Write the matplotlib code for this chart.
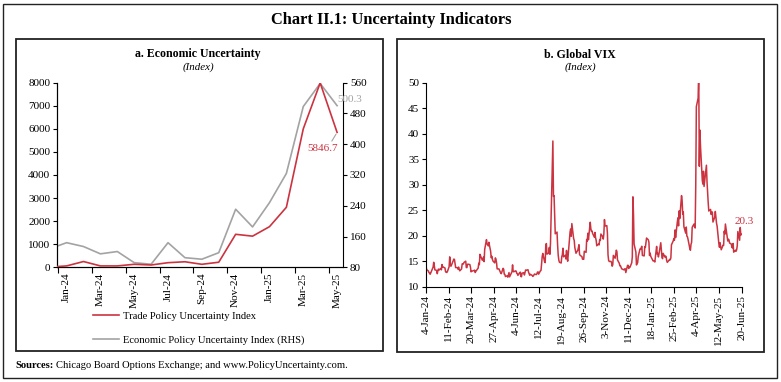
import matplotlib
matplotlib.use("Agg")
import matplotlib.pyplot as plt
import numpy as np
import pandas as pd
from matplotlib.patches import Rectangle
from matplotlib.transforms import ScaledTranslation

plt.rcParams['font.family'] = ['Liberation Serif', 'DejaVu Serif']

# ---------------- Data: panel a (monthly) ----------------
months = ['Dec-23', 'Jan-24', 'Feb-24', 'Mar-24', 'Apr-24', 'May-24', 'Jun-24', 'Jul-24',
          'Aug-24', 'Sep-24', 'Oct-24', 'Nov-24', 'Dec-24', 'Jan-25', 'Feb-25', 'Mar-25',
          'Apr-25', 'May-25']
trade_policy = [10, 60, 250, 60, 60, 130, 100, 200, 240, 130, 220, 1430, 1350, 1760, 2600,
                6000, 7990, 5846.7]
econ_policy = [128, 144, 134, 115, 121, 92, 88, 144, 105, 101, 118, 231, 185, 248, 324,
               498, 558, 500.3]
month_labels = ['Jan-24', 'Mar-24', 'May-24', 'Jul-24', 'Sep-24', 'Nov-24', 'Jan-25',
                'Mar-25', 'May-25']

# ---------------- Data: panel b (daily VIX) ----------------
vix_days = {
    '2024-01': [4, 5, 8, 9, 10, 11, 12, 16, 17, 18, 19, 22, 23, 24, 25, 26, 29, 30, 31],
    '2024-02': [1, 2, 5, 6, 7, 8, 9, 12, 13, 14, 15, 16, 20, 21, 22, 23, 26, 27, 28, 29],
    '2024-03': [1, 4, 5, 6, 7, 8, 11, 12, 13, 14, 15, 18, 19, 20, 21, 22, 25, 26, 27, 28],
    '2024-04': [1, 2, 3, 4, 5, 8, 9, 10, 11, 12, 15, 16, 17, 18, 19, 22, 23, 24, 25, 26, 29, 30],
    '2024-05': [1, 2, 3, 6, 7, 8, 9, 10, 13, 14, 15, 16, 17, 20, 21, 22, 23, 24, 28, 29, 30, 31],
    '2024-06': [3, 4, 5, 6, 7, 10, 11, 12, 13, 14, 17, 18, 20, 21, 24, 25, 26, 27, 28],
    '2024-07': [1, 2, 3, 5, 8, 9, 10, 11, 12, 15, 16, 17, 18, 19, 22, 23, 24, 25, 26, 29, 30, 31],
    '2024-08': [1, 2, 5, 6, 7, 8, 9, 12, 13, 14, 15, 16, 19, 20, 21, 22, 23, 26, 27, 28, 29, 30],
    '2024-09': [3, 4, 5, 6, 9, 10, 11, 12, 13, 16, 17, 18, 19, 20, 23, 24, 25, 26, 27, 30],
    '2024-10': [1, 2, 3, 4, 7, 8, 9, 10, 11, 14, 15, 16, 17, 18, 21, 22, 23, 24, 25, 28, 29, 30, 31],
    '2024-11': [1, 4, 5, 6, 7, 8, 11, 12, 13, 14, 15, 18, 19, 20, 21, 22, 25, 26, 27, 29],
    '2024-12': [2, 3, 4, 5, 6, 9, 10, 11, 12, 13, 16, 17, 18, 19, 20, 23, 24, 26, 27, 30, 31],
    '2025-01': [2, 3, 6, 7, 8, 10, 13, 14, 15, 16, 17, 21, 22, 23, 24, 27, 28, 29, 30, 31],
    '2025-02': [3, 4, 5, 6, 7, 10, 11, 12, 13, 14, 18, 19, 20, 21, 24, 25, 26, 27, 28],
    '2025-03': [3, 4, 5, 6, 7, 10, 11, 12, 13, 14, 17, 18, 19, 20, 21, 24, 25, 26, 27, 28, 31],
    '2025-04': [1, 2, 3, 4, 7, 8, 9, 10, 11, 14, 15, 16, 17, 21, 22, 23, 24, 25, 28, 29, 30],
    '2025-05': [1, 2, 5, 6, 7, 8, 9, 12, 13, 14, 15, 16, 19, 20, 21, 22, 23, 27, 28, 29, 30],
    '2025-06': [2, 3, 4, 5, 6, 9, 10, 11, 12, 13, 16, 17, 18, 20],
}
vix_values = {
    '2024-01': [14.13, 13.35, 13.08, 12.76, 12.69, 12.44, 12.70, 13.84, 14.79, 14.13, 13.30, 13.19,
                12.55, 13.14, 13.45, 13.26, 13.60, 13.31, 14.35],
    '2024-02': [13.88, 13.85, 13.67, 12.93, 12.83, 12.79, 12.93, 13.93, 15.85, 14.38, 14.01, 14.24,
                15.42, 15.34, 14.54, 13.75, 13.74, 13.43, 13.84, 13.40],
    '2024-03': [13.11, 13.49, 14.46, 14.50, 14.44, 14.74, 15.01, 13.75, 13.75, 14.40, 14.41, 14.33,
                13.82, 12.92, 13.06, 13.06, 13.19, 13.24, 12.78, 13.01],
    '2024-04': [13.65, 14.61, 14.33, 16.35, 16.03, 15.19, 15.23, 15.80, 14.91, 17.31, 19.23, 18.40,
                18.21, 18.00, 18.71, 16.94, 15.69, 15.97, 15.37, 15.03, 14.67, 15.65],
    '2024-05': [15.39, 14.68, 13.49, 13.49, 13.23, 13.00, 12.69, 12.55, 13.60, 13.42, 12.45, 12.42,
                11.99, 12.15, 11.86, 12.29, 12.77, 11.93, 12.92, 14.28, 13.06, 12.92],
    '2024-06': [13.11, 13.06, 12.63, 12.58, 12.22, 12.74, 12.85, 12.04, 11.94, 12.66, 12.75, 12.30,
                13.28, 13.20, 13.33, 12.84, 12.55, 12.24, 12.44],
    '2024-07': [12.22, 12.03, 12.09, 12.48, 12.37, 12.51, 12.85, 12.91, 12.46, 13.12, 13.19, 14.48,
                15.93, 16.52, 14.91, 14.72, 18.04, 18.46, 16.39, 16.60, 17.69, 16.36],
    '2024-08': [18.59, 23.39, 38.57, 27.71, 27.85, 23.79, 20.37, 20.71, 18.12, 16.19, 15.23, 14.80,
                14.65, 15.88, 16.27, 17.55, 15.86, 16.15, 15.43, 17.11, 15.65, 15.00],
    '2024-09': [20.72, 21.32, 19.90, 22.38, 19.45, 19.08, 17.69, 17.07, 16.56, 17.14, 17.61, 18.23,
                16.33, 16.15, 15.89, 15.39, 15.41, 15.37, 16.96, 16.73],
    '2024-10': [19.26, 18.90, 20.49, 19.21, 22.64, 21.42, 20.86, 20.93, 20.46, 19.70, 20.64, 19.58,
                19.11, 18.03, 18.37, 18.20, 19.24, 19.08, 20.33, 19.80, 19.34, 20.35, 23.16],
    '2024-11': [21.88, 21.98, 20.49, 16.27, 15.20, 14.94, 14.97, 14.71, 14.02, 14.31, 16.14, 15.58,
                16.35, 17.16, 16.87, 15.24, 14.60, 14.10, 14.10, 13.51],
    '2024-12': [13.34, 13.30, 13.45, 13.54, 12.77, 14.19, 14.18, 13.58, 13.92, 13.81, 14.69, 15.87,
                27.62, 24.09, 18.36, 16.78, 14.27, 14.73, 15.95, 17.40, 17.35],
    '2025-01': [17.93, 16.13, 16.04, 17.82, 17.70, 19.54, 19.19, 18.71, 16.12, 16.60, 15.97, 15.06,
                15.10, 15.02, 14.85, 17.90, 16.41, 16.56, 15.84, 16.43],
    '2025-02': [18.62, 17.21, 15.77, 15.50, 16.54, 15.81, 16.02, 15.89, 15.10, 14.77, 15.35, 15.27,
                15.66, 18.21, 18.98, 19.43, 19.10, 21.13, 19.63],
    '2025-03': [22.78, 23.51, 21.93, 24.87, 23.37, 27.86, 26.92, 24.23, 24.66, 21.77, 20.51, 21.70,
                19.90, 19.80, 19.28, 17.48, 17.15, 18.33, 18.69, 21.65, 22.28],
    '2025-04': [21.77, 21.51, 30.02, 45.31, 46.98, 52.33, 33.62, 40.72, 37.56, 30.89, 30.12, 32.64,
                29.65, 33.82, 30.57, 28.45, 26.47, 24.84, 25.15, 24.17, 24.70],
    '2025-05': [24.60, 22.68, 23.64, 24.76, 23.55, 22.48, 21.90, 18.39, 17.72, 18.62, 17.83, 17.24,
                18.14, 18.09, 20.87, 20.28, 22.29, 18.96, 19.31, 19.18, 18.57],
    '2025-06': [18.36, 17.69, 17.61, 18.48, 16.77, 17.16, 16.95, 17.26, 18.02, 20.82, 19.11, 21.60,
                20.14, 20.3],
}
vix_tick_labels = ['4-Jan-24', '11-Feb-24', '20-Mar-24', '27-Apr-24', '4-Jun-24', '12-Jul-24',
                   '19-Aug-24', '26-Sep-24', '3-Nov-24', '11-Dec-24', '18-Jan-25', '25-Feb-25',
                   '4-Apr-25', '12-May-25', '20-Jun-25']

# build VIX series
dates, vals = [], []
for ym in vix_days:
    for d, v in zip(vix_days[ym], vix_values[ym]):
        dates.append(pd.Timestamp(f"{ym}-{d:02d}"))
        vals.append(v)
vix = pd.Series(vals, index=pd.DatetimeIndex(dates))

RED = '#CC3340'
GREY = '#A3A3A3'
W, H = 781, 382

fig = plt.figure(figsize=(W / 100, H / 100), dpi=100)


def fx(x):
    return x / W


def fy(y):
    return 1 - y / H


# borders
fig.add_artist(Rectangle((fx(3), fy(377.5)), fx(776.5) - fx(3), fy(4) - fy(377.5),
                         transform=fig.transFigure, fill=False, lw=1.0, ec='#222222'))
for (x0, y0, x1, y1) in [(16, 38.5, 383, 351), (397, 38.5, 764, 351.5)]:
    fig.add_artist(Rectangle((fx(x0), fy(y1)), fx(x1) - fx(x0), fy(y0) - fy(y1),
                             transform=fig.transFigure, fill=False, lw=1.3, ec='#222222'))

fig.text(fx(391), fy(19.5), 'Chart II.1: Uncertainty Indicators', ha='center', va='center',
         fontsize=11.8, fontweight='bold')

TICK_FS = 8

# ---------------- Panel a ----------------
ax = fig.add_axes([fx(57.3), fy(267.3), fx(343) - fx(57.3), fy(82.7) - fy(267.3)])
ax2 = ax.twinx()
xm = np.arange(len(months)) - 1
ax.plot(xm, trade_policy, color=RED, lw=1.2, zorder=3)
ax2.plot(xm, econ_policy, color=GREY, lw=1.2, zorder=2)
ax.set_zorder(ax2.get_zorder() + 1)
ax.patch.set_visible(False)
ax.set_xlim(-0.55, 16.35)
ax.set_ylim(0, 8000)
ax.set_yticks(np.arange(0, 8001, 1000))
ax2.set_ylim(80, 560)
ax2.set_yticks(np.arange(80, 561, 80))
ax.set_xticks(np.arange(-0.5, 16, 2))
ax.set_xticklabels([])
ax.set_xticks(np.arange(0, 17, 2), minor=True)
ax.set_xticklabels(month_labels, minor=True, rotation=90, fontsize=TICK_FS)
shift = ScaledTranslation(2 / 100, 0, fig.dpi_scale_trans)
for lbl in ax.get_xticklabels(minor=True):
    lbl.set_transform(lbl.get_transform() + shift)
ax.tick_params(axis='x', which='major', length=4, width=0.8, direction='out')
ax.tick_params(axis='x', which='minor', length=0, pad=4)
ax.tick_params(axis='y', length=3, width=0.8, labelsize=TICK_FS, pad=2)
ax2.tick_params(axis='y', length=3, width=0.8, labelsize=TICK_FS, pad=2)
for a in (ax, ax2):
    a.spines['top'].set_visible(False)
    for s in a.spines.values():
        s.set_linewidth(0.8)
ax.spines['right'].set_visible(False)

ax.annotate('5846.7', xy=(xm[-1], trade_policy[-1]), xytext=(-10.5, -11.5),
            textcoords='offset points', ha='center', va='center', color=RED, fontsize=TICK_FS,
            arrowprops=dict(arrowstyle='-', color=GREY, lw=0.8, shrinkA=0, shrinkB=1.5,
                            relpos=(0.75, 1.0)))
ax2.annotate('500.3', xy=(xm[-1], econ_policy[-1]), xytext=(0, 4.5),
             textcoords='offset points', ha='left', va='center', color=GREY, fontsize=TICK_FS)

fig.text(fx(198), fy(54.5), 'a. Economic Uncertainty', ha='center', va='center',
         fontsize=8.6, fontweight='bold')
fig.text(fx(198), fy(67.5), '(Index)', ha='center', va='center', fontsize=7.8, style='italic')

leg = fig.legend(ax.get_lines() + ax2.get_lines(),
                 ['Trade Policy Uncertainty Index', 'Economic Policy Uncertainty Index (RHS)'],
                 loc='center', bbox_to_anchor=(fx(198.5), fy(328)), frameon=False,
                 fontsize=7.6, handlelength=2.55, handletextpad=0.35, labelspacing=1.35)

# ---------------- Panel b ----------------
bx = fig.add_axes([fx(426), fy(286.7), fx(742) - fx(426), fy(82.7) - fy(286.7)])
bx.plot(vix.index, vix.values, color=RED, lw=1.1)
tick_dates = [pd.Timestamp(pd.to_datetime(t, format='%d-%b-%y')) for t in vix_tick_labels]
bx.set_xlim(tick_dates[0], tick_dates[-1])
bx.set_ylim(10, 50)
bx.set_yticks(np.arange(10, 51, 5))
bx.set_xticks(tick_dates)
bx.set_xticklabels(vix_tick_labels, rotation=90, fontsize=TICK_FS)
bx.tick_params(axis='x', length=4, width=0.8, pad=2)
bx.tick_params(axis='y', length=3, width=0.8, labelsize=TICK_FS, pad=2)
bx.spines['top'].set_visible(False)
bx.spines['right'].set_visible(False)
for s in bx.spines.values():
    s.set_linewidth(0.8)
bx.annotate('20.3', xy=(vix.index[-1], vix.values[-1]), xytext=(1.5, 9),
            textcoords='offset points', ha='center', va='center', color=RED, fontsize=TICK_FS)

fig.text(fx(580), fy(54.5), 'b. Global VIX', ha='center', va='center',
         fontsize=8.6, fontweight='bold')
fig.text(fx(580), fy(67.5), '(Index)', ha='center', va='center', fontsize=7.8, style='italic')

# ---------------- Sources ----------------
renderer = fig.canvas.get_renderer()
t1 = fig.text(fx(15.5), fy(365), 'Sources:', ha='left', va='center', fontsize=7.6,
              fontweight='bold')
bb = t1.get_window_extent(renderer=renderer)
fig.text(bb.x1 / W + 2.5 / W, fy(365),
         'Chicago Board Options Exchange; and www.PolicyUncertainty.com.',
         ha='left', va='center', fontsize=7.6)

fig.savefig('out.png', dpi=100)
